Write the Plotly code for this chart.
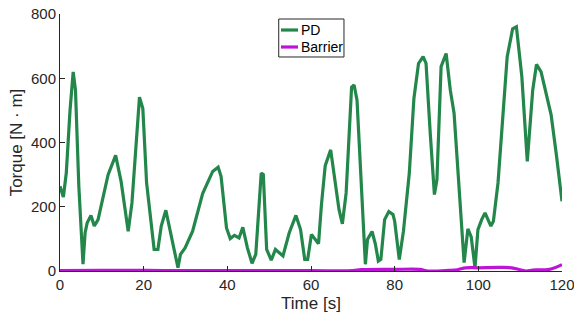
import plotly.graph_objects as go

time_pd = [0, 0.8, 1.5, 2.4, 3.15, 3.7, 4.5, 5.5, 6.0, 6.5, 7.4, 8.2, 9.1, 10.2, 11.5, 13.3, 14.6, 16.3, 17.2, 19.0,
           19.8, 20.7, 22.5, 23.4, 24.2, 25.3, 26.4, 28.2, 28.8, 29.9, 31.7, 34.1, 36.5, 37.8, 38.5, 39.8, 40.7,
           41.7, 42.8, 43.7, 44.8, 45.9, 46.8, 48.1, 48.6, 49.4, 50.5, 51.5, 53.3, 54.8, 56.4, 57.5, 58.5, 59.2,
           60.1, 61.1, 61.8, 62.5, 63.4, 64.7, 65.8, 66.7, 67.5, 68.4, 69.7, 70.3, 71.0, 71.9, 73.0, 73.5, 74.6,
           75.4, 76.1, 76.7, 77.6, 78.6, 79.6, 80.0, 81.1, 82.1, 83.5, 84.6, 85.7, 86.8, 87.5, 88.5, 89.5, 90.1,
           91.1, 92.3, 93.3, 94.2, 95.5, 96.6, 97.5, 98.3, 99.2, 99.9, 100.8, 101.6, 103.0, 103.6, 104.7, 105.8,
           106.9, 108.2, 109.1, 110.4, 111.7, 113.0, 113.9, 115.0, 116.1, 117.4, 118.7, 120]
torque_pd = [264, 230, 305, 501, 620, 563, 264, 21, 119, 150, 173, 140, 160, 222, 300, 360, 279, 124, 212, 541,
             506, 274, 67, 67, 140, 189, 119, 10, 52, 72, 124, 241, 310, 323, 295, 134, 101,
             111, 103, 136, 72, 24, 52, 305, 300, 67, 34, 67, 47, 119, 173, 129, 36, 36,
             114, 98, 85, 207, 328, 377, 279, 191, 147, 243, 572, 579, 532, 315, 21, 98, 123,
             83, 31, 36, 160, 185, 176, 155, 36, 124, 305, 537, 646, 667, 646, 429, 238, 284,
             636, 677, 563, 491, 222, 26, 131, 106, 10, 129, 160, 181, 140, 155, 274, 460,
             667, 754, 760, 605, 341, 563, 643, 620, 563, 486, 357, 217]

time_barrier = [0, 10, 20, 30, 40, 50, 60, 70, 72, 80, 86, 88, 93, 95, 97, 100, 105, 108, 110, 111.5, 113, 117, 120]
torque_barrier = [1, 2, 2, 1, 1, 1, 1, 1, 4, 5, 5, 0, 2, 4, 10, 10, 11, 10, 4, 0, 3, 5, 20]

series_names = ["PD", "Barrier"]
series_colors = ["rgb(35,135,75)", "rgb(190,20,215)"]

FONT = "Liberation Sans, Arial"
TXT = "#262626"

fig = go.Figure()
fig.add_trace(go.Scatter(x=time_pd, y=torque_pd, mode="lines", name=series_names[0],
                         line=dict(color=series_colors[0], width=3.2), showlegend=False))
fig.add_trace(go.Scatter(x=time_barrier, y=torque_barrier, mode="lines", name=series_names[1],
                         line=dict(color=series_colors[1], width=3.2, shape="spline"), showlegend=False))

axis_common = dict(showgrid=False, zeroline=False, showline=True, linecolor=TXT, linewidth=1,
                   ticks="inside", ticklen=5, tickcolor=TXT, mirror=False, ticklabeloverflow="allow",
                   automargin=False, tickfont=dict(family=FONT, size=15, color=TXT))
fig.update_xaxes(range=[0, 120], tickvals=[0, 20, 40, 60, 80, 100, 120],
                 title=dict(text="Time [s]", font=dict(family=FONT, size=17, color=TXT), standoff=5),
                 **axis_common)
fig.update_yaxes(range=[0, 800], tickvals=[0, 200, 400, 600, 800],
                 title=dict(text="Torque [N · m]", font=dict(family=FONT, size=17, color=TXT), standoff=4),
                 **axis_common)

# legend drawn as a boxed key (paper coordinates)
box = dict(x0=0.4357, x1=0.5657, y0=0.8327, y1=0.9805)
key_y = [0.9377, 0.8716]
shapes = [dict(type="rect", xref="paper", yref="paper", fillcolor="white",
               line=dict(color=TXT, width=1), **box)]
annotations = []
for name, color, yy in zip(series_names, series_colors, key_y):
    shapes.append(dict(type="line", xref="paper", yref="paper", x0=0.4402, x1=0.4741, y0=yy, y1=yy,
                       line=dict(color=color, width=3.2)))
    annotations.append(dict(xref="paper", yref="paper", x=0.4761, y=yy, xanchor="left", yanchor="middle",
                            text=name, showarrow=False, font=dict(family=FONT, size=14, color="black")))

fig.update_layout(
    width=574, height=322,
    margin=dict(l=60, r=12, t=14, b=51),
    plot_bgcolor="white", paper_bgcolor="white",
    showlegend=False,
    shapes=shapes, annotations=annotations,
)
fig.write_html("out.html")
